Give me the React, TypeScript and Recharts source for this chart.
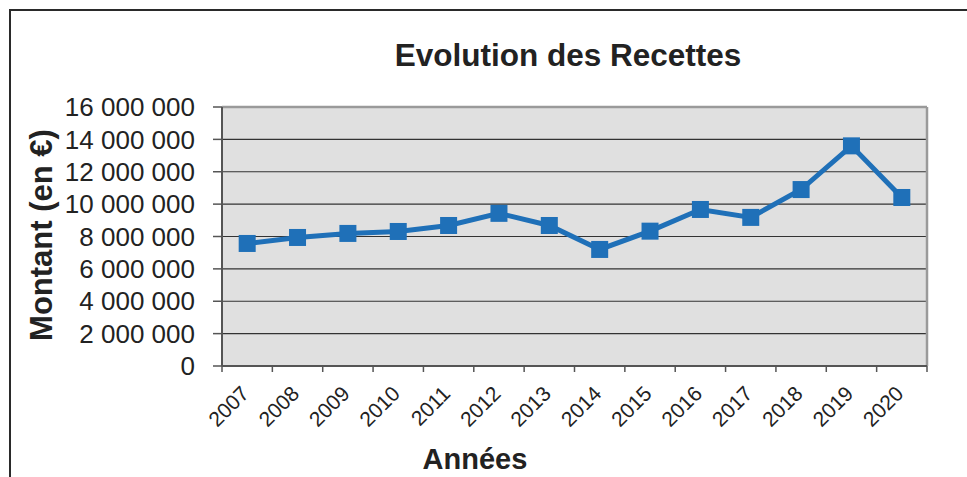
import React from "react";
import {
  LineChart,
  Line,
  XAxis,
  YAxis,
  CartesianGrid,
  Customized,
} from "recharts";

const years = ["2007", "2008", "2009", "2010", "2011", "2012", "2013", "2014", "2015", "2016", "2017", "2018", "2019", "2020"];
const recettes = [7570000, 7940000, 8190000, 8310000, 8680000, 9430000, 8680000, 7200000, 8330000, 9670000, 9180000, 10900000, 13600000, 10410000];
const yTicks = [0, 2000000, 4000000, 6000000, 8000000, 10000000, 12000000, 14000000, 16000000];

const title = "Evolution des Recettes";
const yTitle = "Montant (en €)";
const xTitle = "Années";

const data = years.map((y, i) => ({ year: y, value: recettes[i] }));

const FONT = "'Liberation Sans', Arial, sans-serif";
const W = 967;
const H = 477;
const M = { top: 107, right: 40, left: 0, bottom: 51 };
const Y_AXIS_W = 222;
const X_AXIS_H = 60;
const BAND = (W - M.right - Y_AXIS_W) / years.length;

const fmt = (v: number) => String(v).replace(/\B(?=(\d{3})+(?!\d))/g, " ");

const XTick = (props: any) => {
  const { x, y, payload, index } = props;
  return (
    <g>
      <line x1={x - BAND / 2} y1={y - 6} x2={x - BAND / 2} y2={y} stroke="#555" strokeWidth={1.5} />
      {index === years.length - 1 && (
        <line x1={x + BAND / 2} y1={y - 6} x2={x + BAND / 2} y2={y} stroke="#555" strokeWidth={1.5} />
      )}
      <text
        transform={`translate(${x + 3},${y + 23}) rotate(-45)`}
        textAnchor="end"
        fontSize={21}
        fontFamily={FONT}
        fill="#222"
      >
        {payload.value}
      </text>
    </g>
  );
};

const SquareDot = (props: any) => {
  const { cx, cy, index } = props;
  if (cx == null || cy == null) return null;
  return <rect key={`d${index}`} x={cx - 8.5} y={cy - 8.5} width={17} height={17} fill="#1f70b8" />;
};

const Titles = () => (
  <g fontFamily={FONT} fill="#222" fontWeight="bold">
    <text x={568} y={66} textAnchor="middle" fontSize={31.5}>{title}</text>
    <text transform="translate(52,235) rotate(-90)" textAnchor="middle" fontSize={31}>{yTitle}</text>
    <text x={475} y={469} textAnchor="middle" fontSize={29}>{xTitle}</text>
  </g>
);

export default function App() {
  return (
    <div style={{ position: "fixed", left: 0, top: 0, width: W, height: H, overflow: "hidden", background: "#fff" }}>
      <div
        style={{
          position: "absolute",
          left: 9,
          top: 9,
          width: 1100,
          height: 600,
          borderLeft: "2px solid #2a2a2a",
          borderTop: "2px solid #2a2a2a",
        }}
      />
      <div style={{ position: "absolute", left: 0, top: 0 }}>
        <LineChart width={W} height={H} data={data} margin={M}>
          <CartesianGrid vertical={false} fill="#e0e0e0" fillOpacity={1} stroke="#333" strokeWidth={1.2} />
          <CartesianGrid
            stroke="#9a9a9a"
            strokeWidth={2.5}
            horizontalCoordinatesGenerator={({ offset }: any) => [offset.top]}
            verticalCoordinatesGenerator={({ offset }: any) => [offset.left + offset.width]}
          />
          <XAxis
            dataKey="year"
            height={X_AXIS_H}
            interval={0}
            padding={{ left: BAND / 2, right: BAND / 2 }}
            tickSize={6}
            tickMargin={0}
            tickLine={false}
            axisLine={{ stroke: "#555", strokeWidth: 2 }}
            tick={<XTick />}
          />
          <YAxis
            width={Y_AXIS_W}
            domain={[0, 16000000]}
            ticks={yTicks}
            interval={0}
            tickFormatter={fmt}
            tickSize={9}
            tickMargin={18}
            axisLine={{ stroke: "#555", strokeWidth: 2 }}
            tickLine={{ stroke: "#555", strokeWidth: 1.5 }}
            tick={{ fontSize: 26, fontFamily: FONT, fill: "#222" }}
          />
          <Line
            type="linear"
            dataKey="value"
            stroke="#1f70b8"
            strokeWidth={5}
            dot={<SquareDot />}
            activeDot={false}
            isAnimationActive={false}
          />
          <Customized component={Titles} />
        </LineChart>
      </div>
    </div>
  );
}
